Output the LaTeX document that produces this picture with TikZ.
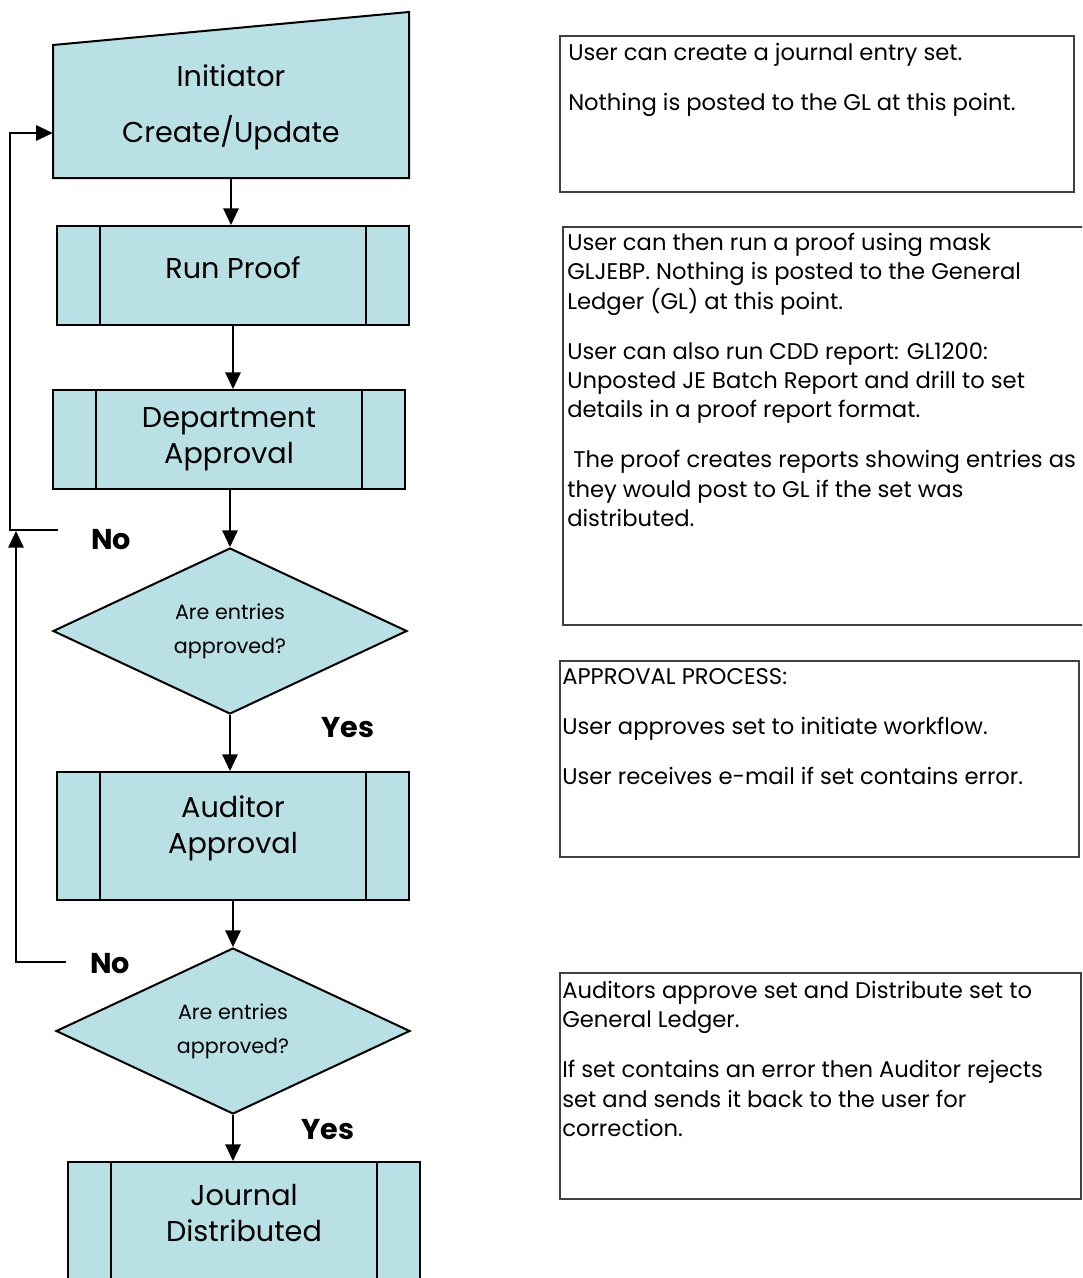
\documentclass[tikz,border=0pt]{standalone}
\usepackage{fontspec}
\setmainfont{Poppins}
\usetikzlibrary{arrows.meta,shapes.geometric}
\definecolor{fc}{RGB}{185,224,228}
\begin{document}
\begin{tikzpicture}[x=0.75pt,y=-0.75pt,
 flow/.style={draw=black, line width=1.5pt, fill=fc},
 procbox/.style={flow, minimum width=352*0.75pt, inner sep=0pt},
 dec/.style={flow, shape=diamond, aspect=2.13, minimum width=354*0.75pt, minimum height=166*0.75pt, inner sep=0pt, font=\fontsize{15.5}{25.5}\selectfont, align=center},
 big/.style={font=\fontsize{21.5}{27}\selectfont, align=center, inner sep=0pt},
 yn/.style={font=\fontsize{21.5}{25}\selectfont\bfseries, inner sep=0pt},
 note/.style={draw=black!75, line width=1pt, inner sep=0pt},
 notetext/.style={font=\fontsize{17}{22}\selectfont, align=left, anchor=north west, inner sep=0pt},
 conn/.style={line width=1.5pt, -{Triangle[length=12.5pt,width=11.5pt]}},
 back/.style={line width=1.5pt}
]
\useasboundingbox (0,0) rectangle (1082,1278);
\clip (0,0) rectangle (1082,1278);
\fill[white] (0,0) rectangle (1082,1278);

% Initiator (manual input)
\draw[flow] (53,45) -- (409,12) -- (409,178) -- (53,178) -- cycle;
\node[inner sep=0pt, minimum width=356*0.75pt, minimum height=133*0.75pt] (init) at (231,111.5) {};
\node[big] (initA) at (231,76) {Initiator};
\node[big] (initB) at (231,133) {Create/Update};

% process boxes
\node[procbox, minimum height=99*0.75pt] (proof) at (233,275.5) {};
\node[big] (proofT) at (233,268) {Run Proof};
\node[procbox, minimum height=99*0.75pt] (dept) at (229,439.5) {};
\node[big] (deptT) at (229,439) {Department\\Approval};
\node[dec] (dec1) at (230,631) {Are entries\\approved?};
\node[procbox, minimum height=128*0.75pt] (aud) at (233,836) {};
\node[big] (audT) at (233,828) {Auditor\\Approval};
\node[dec] (dec2) at (233,1031) {Are entries\\approved?};
\node[procbox, minimum height=140*0.75pt] (jour) at (244,1232) {};
\node[big] (jourT) at (244,1213) {Journal\\Distributed};

\foreach \n in {proof,dept,aud,jour}{
  \draw[line width=1.5pt] ([xshift=33pt]\n.north west) -- ([xshift=33pt]\n.south west);
  \draw[line width=1.5pt] ([xshift=-33pt]\n.north east) -- ([xshift=-33pt]\n.south east);
}

% labels
\node[yn] (no1) at (111,540) {No};
\node[yn] (yes1) at (348,728) {Yes};
\node[yn] (no2) at (110,964) {No};
\node[yn] (yes2) at (328,1130) {Yes};

% main connectors
\draw[conn] (init.south) -- (init.south |- proof.north);
\draw[conn] (proof.south) -- (proof.south |- dept.north);
\draw[conn] (dept.south -| dec1.north) -- (dec1.north);
\draw[conn] (dec1.south) -- (dec1.south |- aud.north);
\draw[conn] (aud.south -| dec2.north) -- (dec2.north);
\draw[conn] (dec2.south) -- (dec2.south |- jour.north);

% feedback
\coordinate (f1) at (58,530);
\coordinate (f2) at (66,962);
\draw[conn] (f1) -- (10,530) |- ([yshift=-16.125pt]init.west);
\draw[conn] (f2) -- (16,962) -- (16,531);

% notes
\node[note, minimum width=514*0.75pt, minimum height=156*0.75pt] (nA) at (817,114) {};
\node[notetext] (nAt) at (568,43) {User can create a journal entry set.\\[15.5pt]Nothing is posted to the GL at this point.};
\node[note, minimum width=540*0.75pt, minimum height=398*0.75pt] (nB) at (833,426) {};
\node[notetext] (nBt) at (567,233) {User can then run a proof using mask\\GLJEBP. Nothing is posted to the General\\Ledger (GL) at this point.\\[15.5pt]User can also run CDD report: GL1200:\\Unposted JE Batch Report and drill to set\\details in a proof report format.\\[15.5pt]\ The proof creates reports showing entries as\\they would post to GL if the set was\\distributed.};
\node[note, minimum width=519*0.75pt, minimum height=196*0.75pt] (nC) at (819.5,759) {};
\node[notetext] (nCt) at (562,668) {APPROVAL PROCESS:\\[15.5pt]User approves set to initiate workflow.\\[15.5pt]User receives e-mail if set contains error.};
\node[note, minimum width=521*0.75pt, minimum height=226*0.75pt] (nD) at (820.5,1086) {};
\node[notetext] (nDt) at (562,981) {Auditors approve set and Distribute set to\\General Ledger.\\[15.5pt]If set contains an error then Auditor rejects\\set and sends it back to the user for\\correction.};
\end{tikzpicture}
\end{document}
